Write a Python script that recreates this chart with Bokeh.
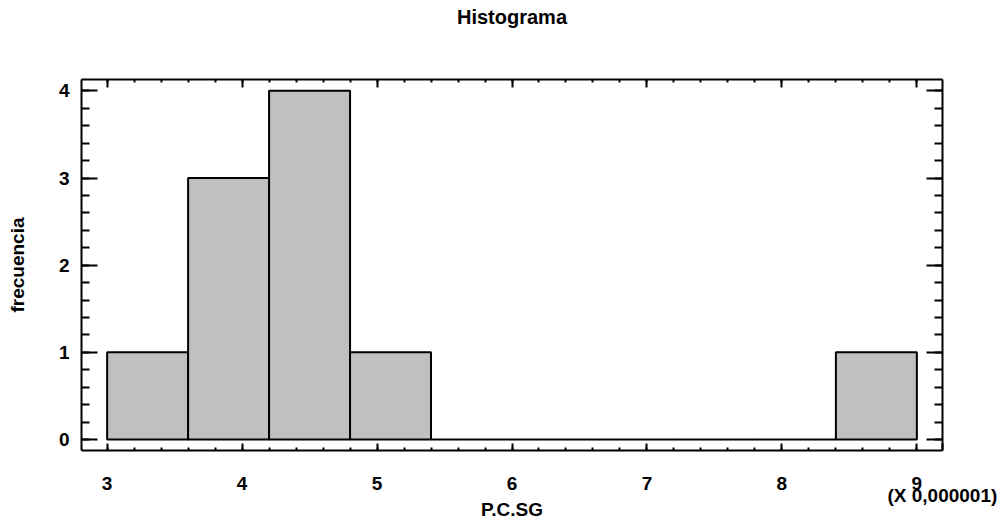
from bokeh.plotting import figure
from bokeh.models import (LinearAxis, Range1d, FixedTicker,
                          CustomJSTickFormatter, ColumnDataSource)
from bokeh.embed import file_html
from bokeh.resources import INLINE

# ---- data ----
bin_left = [3.0, 3.6, 4.2, 4.8, 5.4, 6.0, 6.6, 7.2, 7.8, 8.4]
bin_right = [3.6, 4.2, 4.8, 5.4, 6.0, 6.6, 7.2, 7.8, 8.4, 9.0]
counts = [1, 3, 4, 1, 0, 0, 0, 0, 0, 1]
x_ticks = [3, 4, 5, 6, 7, 8, 9]
y_ticks = [0, 1, 2, 3, 4]
title_text = "Histograma"
x_label = "P.C.SG"
y_label = "frecuencia"
scale_note = "(X 0,000001)"

FONT = "Liberation Sans"
FS = "19px"
X0, X1 = 2.81, 9.19
Y0, Y1 = -0.126, 4.13

src = ColumnDataSource(dict(left=bin_left, right=bin_right, top=counts,
                            bottom=[0] * len(counts)))

p = figure(width=1006, height=522, output_backend="svg", toolbar_location=None,
           x_range=Range1d(X0, X1), y_range=Range1d(Y0, Y1),
           x_axis_type=None, y_axis_type=None, title=None,
           min_border_left=81, min_border_right=64, min_border_top=79,
           min_border_bottom=59)
p.grid.visible = False
p.outline_line_color = None
p.background_fill_color = "white"
p.border_fill_color = "white"

p.quad(left="left", right="right", top="top", bottom="bottom", source=src,
       fill_color="#C0C0C0", line_color="black", line_width=2)

empty = CustomJSTickFormatter(code="return ''")
minor = [round(t * 0.2, 6) for t in range(-5, 50)]


def style(ax, major_in, minor_in, ticks):
    ax.ticker = FixedTicker(ticks=ticks, minor_ticks=minor)
    ax.axis_line_color = "black"
    ax.axis_line_width = 2
    ax.major_tick_in = major_in
    ax.major_tick_out = 0
    ax.minor_tick_in = minor_in
    ax.minor_tick_out = 0
    ax.major_tick_line_width = 2
    ax.minor_tick_line_width = 2
    ax.major_tick_line_color = "black"
    ax.minor_tick_line_color = "black"
    ax.major_label_text_font = FONT
    ax.major_label_text_font_style = "bold"
    ax.major_label_text_font_size = FS
    ax.major_label_text_color = "black"


def style_label(ax, size=FS):
    ax.axis_label_text_font = FONT
    ax.axis_label_text_font_style = "bold"
    ax.axis_label_text_font_size = size
    ax.axis_label_text_color = "black"


# bottom axis: the scale note sits as a second line under a tick at the right edge
note_pos = X1 - 0.001
bottom = LinearAxis(axis_label=x_label)
style(bottom, 7, 3, x_ticks + [note_pos])
bottom.major_label_overrides = {note_pos: "\n" + scale_note}
bottom.major_label_text_line_height = 0.58
bottom.major_label_standoff = 22
bottom.axis_label_standoff = -10
style_label(bottom)
p.add_layout(bottom, "below")

# top axis carries the chart title as its axis label
top = LinearAxis(formatter=empty, axis_label=title_text)
style(top, 8, 3, x_ticks)
top.major_label_standoff = 0
top.axis_label_standoff = 52
style_label(top, "20px")
p.add_layout(top, "above")

left = LinearAxis(axis_label=y_label)
style(left, 16, 8, y_ticks)
left.major_label_standoff = 12
left.axis_label_standoff = 28
style_label(left)
p.add_layout(left, "left")

right = LinearAxis(formatter=empty)
style(right, 16, 8, y_ticks)
p.add_layout(right, "right")

open("out.html", "w").write(file_html(p, INLINE))
